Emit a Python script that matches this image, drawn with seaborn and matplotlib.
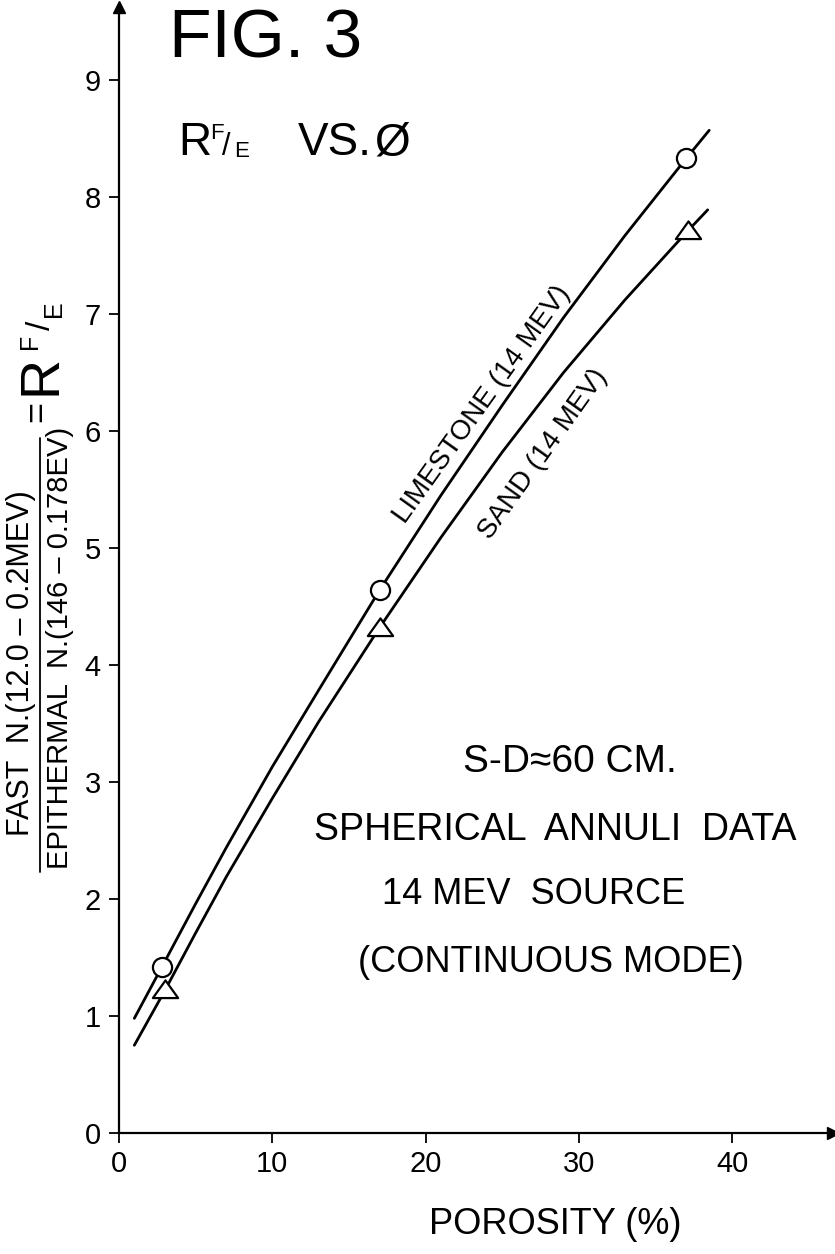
import matplotlib
matplotlib.use('Agg')
import matplotlib.pyplot as plt
from matplotlib.lines import Line2D
from matplotlib.path import Path
import seaborn as sns
import pandas as pd

# points
limestone_x = [2.8, 17.0, 37.0]
limestone_y = [1.42, 4.64, 8.33]
sand_x = [3.0, 17.0, 37.1]
sand_y = [1.22, 4.32, 7.71]

# hand-drawn curves
limestone_curve_x = [1.0, 2.8, 5.0, 7.0, 10.0, 13.0, 17.0, 21.0, 25.0, 29.0, 33.0, 37.0, 38.5]
limestone_curve_y = [0.98, 1.42, 1.96, 2.44, 3.13, 3.78, 4.64, 5.45, 6.22, 6.97, 7.67, 8.33, 8.57]
sand_curve_x = [1.0, 3.0, 5.0, 7.0, 10.0, 13.0, 17.0, 21.0, 25.0, 29.0, 33.0, 37.1, 38.4]
sand_curve_y = [0.75, 1.22, 1.71, 2.19, 2.86, 3.51, 4.32, 5.09, 5.82, 6.50, 7.12, 7.71, 7.89]

x_ticks = [0, 10, 20, 30, 40]
y_ticks = [0, 1, 2, 3, 4, 5, 6, 7, 8, 9]

W, H = 835, 1254

sns.set_style('ticks')
plt.rcParams['font.family'] = ['Liberation Sans Narrow', 'Liberation Sans', 'DejaVu Sans']
plt.rcParams.update({'text.color': 'black', 'axes.labelcolor': 'black',
                     'xtick.color': 'black', 'ytick.color': 'black',
                     'axes.edgecolor': 'black'})


def px(x, y):
    return x / W, 1 - y / H


fig = plt.figure(figsize=(W / 100, H / 100), dpi=100)
x0, y0 = 119, 1133
ax = fig.add_axes([x0 / W, 1 - y0 / H, (833 - x0) / W, (y0 - 7) / H])
ax.set_xlim(0, (833 - x0) / 15.33)
ax.set_ylim(0, (y0 - 7) / 117.0)

curves = pd.DataFrame({
    'x': limestone_curve_x + sand_curve_x,
    'y': limestone_curve_y + sand_curve_y,
    'rock': ['limestone'] * len(limestone_curve_x) + ['sand'] * len(sand_curve_x),
})
sns.lineplot(data=curves, x='x', y='y', units='rock', estimator=None, color='black',
             linewidth=2.0, ax=ax, legend=False, zorder=2)

tri = Path([(-1.0, -0.6), (1.0, -0.6), (0.0, 0.8), (-1.0, -0.6)],
           [Path.MOVETO, Path.LINETO, Path.LINETO, Path.CLOSEPOLY])
sns.scatterplot(x=limestone_x, y=limestone_y, marker='o', s=190, facecolor='white',
                edgecolor='black', linewidth=1.6, ax=ax, zorder=3, clip_on=False)
sns.scatterplot(x=sand_x, y=sand_y, marker=tri, s=330, facecolor='white',
                edgecolor='black', linewidth=1.6, ax=ax, zorder=3, clip_on=False)

# axes like the drawing: two arrows, no box
sns.despine(ax=ax)
for side in ['left', 'bottom']:
    ax.spines[side].set_linewidth(1.6)
ax.plot(1, 0, '>k', ms=9, transform=ax.get_yaxis_transform(), clip_on=False)
ax.plot(0, 1, '^k', ms=9, transform=ax.get_xaxis_transform(), clip_on=False)
ax.set_xticks(x_ticks)
ax.set_yticks(y_ticks)
ax.tick_params(axis='both', direction='out', length=7, width=1.3, labelsize=21)
ax.tick_params(axis='y', pad=6)
ax.tick_params(axis='x', pad=5)
ax.set_xlabel('')
ax.set_ylabel('')

# texts
fig.text(*px(266, 40), 'FIG. 3', fontsize=50, ha='center', va='center')
fig.text(*px(178, 155), 'R', fontsize=33, ha='left', va='baseline')
fig.text(*px(210, 139), 'F', fontsize=16, ha='left', va='baseline')
fig.text(*px(222, 155), '/', fontsize=22, ha='left', va='baseline')
fig.text(*px(234, 157), 'E', fontsize=16, ha='left', va='baseline')
fig.text(*px(298, 155), 'VS.', fontsize=33, ha='left', va='baseline')
fig.text(*px(374, 155), 'Ø', fontsize=33, ha='left', va='baseline')

fig.text(*px(555, 1225), 'POROSITY (%)', fontsize=26, ha='center', va='center')

fig.text(*px(570, 762), 'S-D≈60 CM.', fontsize=28, ha='center', va='center')
fig.text(*px(555, 830), 'SPHERICAL  ANNULI  DATA', fontsize=27, ha='center', va='center')
fig.text(*px(534, 894), '14 MEV  SOURCE', fontsize=26, ha='center', va='center')
fig.text(*px(551, 962), '(CONTINUOUS MODE)', fontsize=26, ha='center', va='center')

fig.text(*px(482, 404), 'LIMESTONE (14 MEV)', fontsize=20, rotation=54.5,
         ha='center', va='center', rotation_mode='anchor')
fig.text(*px(543, 454), 'SAND (14 MEV)', fontsize=20, rotation=54.5,
         ha='center', va='center', rotation_mode='anchor')

# y label as a fraction, drawn vertically
fig.text(*px(21, 663), 'FAST  N.(12.0 – 0.2MEV)', fontsize=22, rotation=90,
         ha='center', va='center', rotation_mode='anchor')
fig.text(*px(60, 648), 'EPITHERMAL  N.(146 – 0.178EV)', fontsize=21, rotation=90,
         ha='center', va='center', rotation_mode='anchor')
fig.add_artist(Line2D([40 / W, 40 / W], [1 - 872 / H, 1 - 438 / H], color='black', lw=1.3))
fig.text(*px(38, 412), '=', fontsize=26, rotation=90, ha='center', va='center',
         rotation_mode='anchor')
fig.text(*px(42, 375), 'R', fontsize=40, rotation=90, ha='center', va='center',
         rotation_mode='anchor')
fig.text(*px(30, 341), 'F', fontsize=18, rotation=90, ha='center', va='center',
         rotation_mode='anchor')
fig.text(*px(42, 325), '/', fontsize=24, rotation=90, ha='center', va='center',
         rotation_mode='anchor')
fig.text(*px(54, 309), 'E', fontsize=18, rotation=90, ha='center', va='center',
         rotation_mode='anchor')

fig.savefig('out.png', dpi=100)
